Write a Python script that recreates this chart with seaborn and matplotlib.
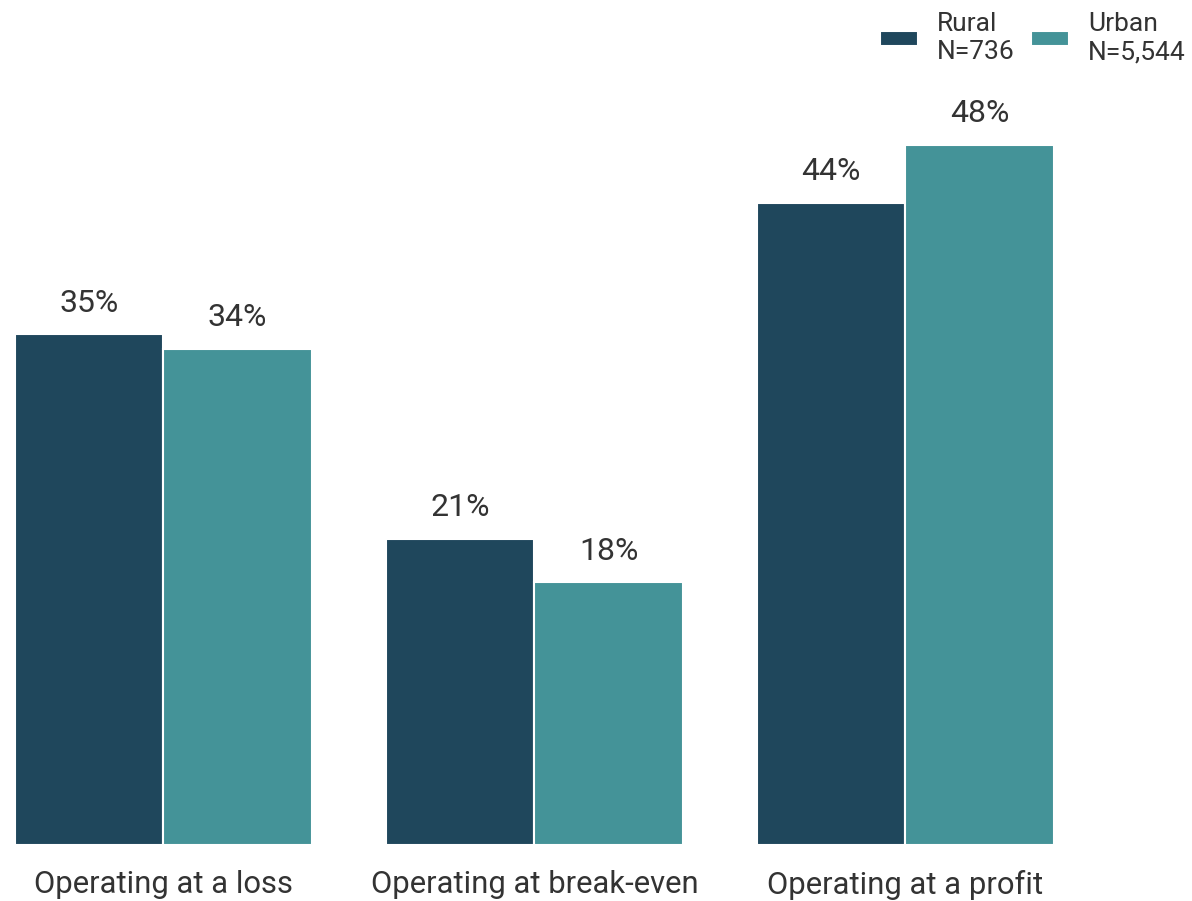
import matplotlib
matplotlib.use("Agg")
import matplotlib.pyplot as plt
import pandas as pd
import seaborn as sns

categories = ["Operating at a loss", "Operating at break-even", "Operating at a profit"]
groups = ["Rural\nN=736", "Urban\nN=5,544"]
rural = [35, 21, 44]
urban = [34, 18, 48]
colors = ["#1f475c", "#449398"]

df = pd.DataFrame({
    "category": categories * 2,
    "group": [groups[0]] * 3 + [groups[1]] * 3,
    "value": rural + urban,
})

sns.set_theme(style="white")
plt.rcParams["font.family"] = ["Roboto", "DejaVu Sans"]

fig = plt.figure(figsize=(11.92, 9.01), dpi=100)
ax = fig.add_axes([15 / 1192, 56 / 901, 1165 / 1192, 785 / 901])

sns.barplot(
    data=df,
    x="category",
    y="value",
    hue="group",
    palette=colors,
    saturation=1,
    width=0.8,
    edgecolor="white",
    linewidth=1.5,
    ax=ax
)

for container in ax.containers:
    ax.bar_label(
        container,
        labels=[f"{v:.0f}%" for v in container.datavalues],
        padding=12,
        fontsize=23,
        color="#333333"
    )

ax.set_xlim(-0.4, 2.74)
ax.set_ylim(0, 53.8)
ax.set_xlabel("")
ax.set_ylabel("")
ax.set_yticks([])
ax.tick_params(axis="x", length=0, pad=18, labelsize=22.3, labelcolor="#333333")
sns.despine(ax=ax, left=True, bottom=True, top=True, right=True)

leg = ax.legend(
    loc="upper right",
    bbox_to_anchor=(1.014, 1.074),
    borderaxespad=0,
    ncol=2,
    frameon=False,
    fontsize=19,
    handlelength=1.45,
    handleheight=0.45,
    columnspacing=0.6,
    handletextpad=0.72,
    labelspacing=0.3,
    labelcolor="#333333"
)

fig.savefig("out.png", dpi=100)
